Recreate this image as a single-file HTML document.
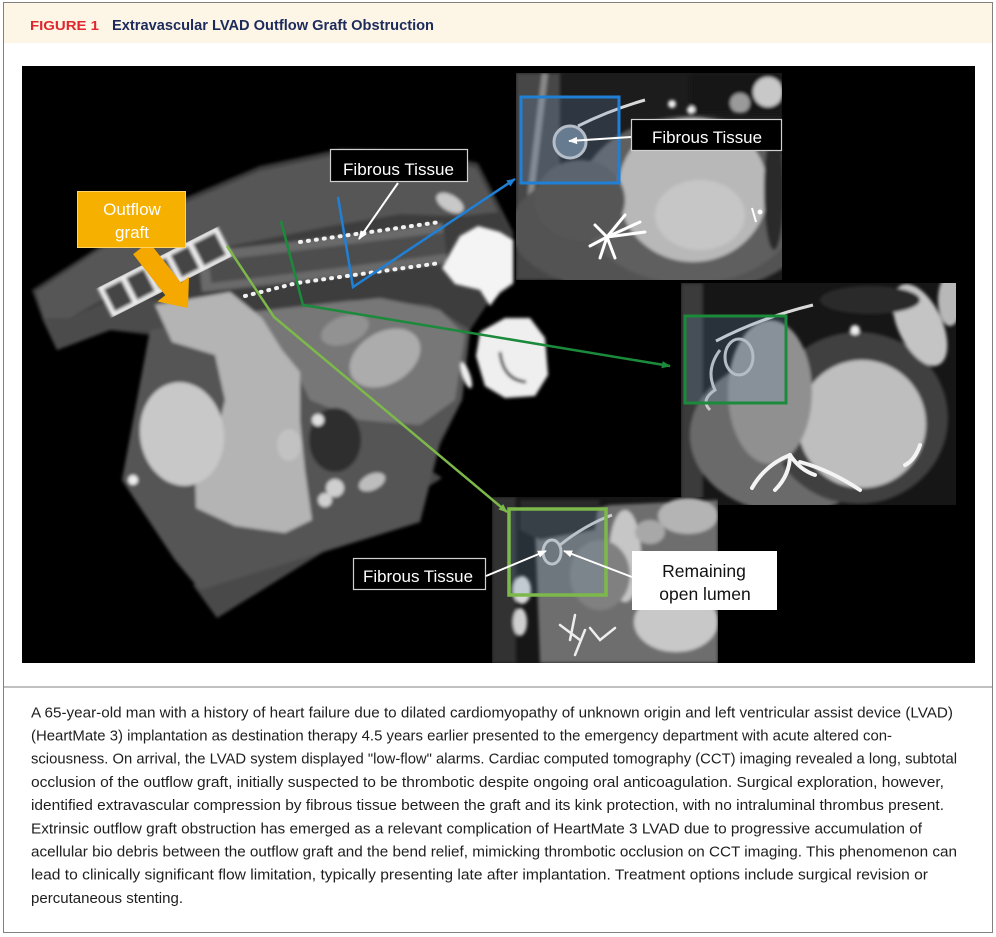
<!DOCTYPE html>
<html><head><meta charset="utf-8"><style>
html,body{margin:0;padding:0;background:#fff;}
svg{display:block;}
</style></head><body>
<svg width="996" height="937" viewBox="0 0 996 937" xmlns="http://www.w3.org/2000/svg" font-family="'Liberation Sans', Arial, sans-serif">
<defs>
<filter id="b" x="-5%" y="-5%" width="110%" height="110%"><feGaussianBlur stdDeviation="1.6"/></filter>
<filter id="b2" x="-10%" y="-10%" width="120%" height="120%"><feGaussianBlur stdDeviation="3"/></filter>
<marker id="mb" viewBox="0 0 10 10" refX="9" refY="5" markerWidth="9" markerHeight="9" markerUnits="userSpaceOnUse" orient="auto"><path d="M0,1 L10,5 L0,9 z" fill="#1f80d6"/></marker>
<marker id="mg" viewBox="0 0 10 10" refX="9" refY="5" markerWidth="9" markerHeight="9" markerUnits="userSpaceOnUse" orient="auto"><path d="M0,1 L10,5 L0,9 z" fill="#1b8a3a"/></marker>
<marker id="ml" viewBox="0 0 10 10" refX="9" refY="5" markerWidth="9" markerHeight="9" markerUnits="userSpaceOnUse" orient="auto"><path d="M0,1 L10,5 L0,9 z" fill="#7cb94a"/></marker>
<marker id="mw" viewBox="0 0 10 10" refX="9" refY="5" markerWidth="9" markerHeight="9" markerUnits="userSpaceOnUse" orient="auto"><path d="M0,1 L10,5 L0,9 z" fill="#ffffff"/></marker>
<clipPath id="c1"><rect x="516" y="73" width="266" height="207"/></clipPath>
<clipPath id="c2"><rect x="681" y="283" width="275" height="222"/></clipPath>
<clipPath id="c3"><rect x="492" y="497" width="226" height="166"/></clipPath>
</defs>

<rect width="996" height="937" fill="#fff"/>
<rect x="4" y="3" width="988" height="40" fill="#fdf5e6"/>
<rect x="3.5" y="2.5" width="989" height="930" fill="none" stroke="#808080" stroke-width="1"/>
<text x="30" y="30" font-size="12.5" font-weight="bold" fill="#e0262e" textLength="69" lengthAdjust="spacingAndGlyphs">FIGURE 1</text>
<text x="112" y="30" font-size="14.5" font-weight="bold" fill="#1c2b5c" textLength="322" lengthAdjust="spacingAndGlyphs">Extravascular LVAD Outflow Graft Obstruction</text>

<!-- image area -->
<rect x="22" y="66" width="953" height="597" fill="#000"/>

<!-- MAIN CT -->
<g filter="url(#b)">
  <polygon fill="#3c3c3c" points="32,290 100,246 180,200 260,166 340,149 420,151 478,163 503,212 513,232 513,285 490,300 470,330 462,400 440,445 420,522 200,590 175,560 122,480 150,335 110,330 57,350 42,318"/>
  <polygon fill="#4a4a4a" points="193,585 217,618 442,478 430,470"/>
  <polygon fill="#575757" points="36,292 100,250 180,205 260,171 340,154 420,156 476,168 498,212 460,216 400,214 330,226 260,240 200,252 150,272 110,295 70,318 44,318"/>
  <polygon fill="#4c4c4c" points="42,318 70,318 110,300 150,300 200,300 160,332 110,330 57,350"/>
  <!-- heart region -->
  <polygon fill="#555" points="150,330 250,312 350,300 430,305 470,330 462,400 440,440 420,522 200,590 175,560 122,480"/>
  <polygon fill="#777" points="250,312 380,298 440,310 465,335 455,400 420,425 360,420 310,400 290,360"/>
  <ellipse cx="385" cy="358" rx="38" ry="26" transform="rotate(-30 385 358)" fill="#acacac"/>
  <ellipse cx="345" cy="330" rx="25" ry="14" transform="rotate(-20 345 330)" fill="#929292"/>
  <polygon fill="#b4b4b4" points="155,305 230,292 262,318 282,350 300,372 300,420 305,470 312,520 285,533 235,526 196,508 195,470 215,440 225,400 215,355 172,342"/>
  <ellipse cx="182" cy="434" rx="42" ry="52" transform="rotate(-8 182 434)" fill="#c8c8c8"/>
  <ellipse cx="335" cy="440" rx="26" ry="32" fill="#2e2e2e"/>
  <ellipse cx="289" cy="445" rx="12" ry="16" fill="#c2c2c2"/>
  <circle cx="335" cy="488" r="9" fill="#cfcfcf"/>
  <circle cx="325" cy="500" r="7" fill="#d0d0d0"/>
  <ellipse cx="372" cy="482" rx="14" ry="8" transform="rotate(-25 372 482)" fill="#bdbdbd"/>
  <circle cx="318" cy="420" r="6" fill="#e0e0e0"/>
  <circle cx="133" cy="480" r="5" fill="#eee"/>
  <!-- graft band -->
  <path d="M200,272 Q300,262 445,243" stroke="#6a6a6a" stroke-width="40" fill="none"/>
  <path d="M210,272 Q300,262 445,243" stroke="#4e4e4e" stroke-width="22" fill="none"/>
  <ellipse cx="450" cy="203" rx="15" ry="8" transform="rotate(30 450 203)" fill="#c8c8c8"/>
</g>
<!-- dotted rows -->
<path d="M300,242 L440,222" stroke="#f2f2f2" stroke-width="4" stroke-dasharray="1 7" stroke-linecap="round" fill="none"/>
<path d="M245,296 L297,283 L440,263" stroke="#f2f2f2" stroke-width="4" stroke-dasharray="1 7" stroke-linecap="round" fill="none"/>
<!-- bend relief lattice -->
<g transform="translate(165,272) rotate(-27)" filter="url(#b)">
  <rect x="-65" y="-15" width="130" height="30" fill="#444" stroke="#eee" stroke-width="5"/>
  <line x1="-40" y1="-15" x2="-40" y2="15" stroke="#eee" stroke-width="5"/>
  <line x1="-15" y1="-15" x2="-15" y2="15" stroke="#eee" stroke-width="5"/>
  <line x1="10" y1="-15" x2="10" y2="15" stroke="#eee" stroke-width="5"/>
  <line x1="35" y1="-15" x2="35" y2="15" stroke="#eee" stroke-width="5"/>
</g>
<!-- pump blobs -->
<g filter="url(#b)">
  <polygon fill="#f4f4f4" points="442,268 460,236 478,226 500,232 513,240 513,283 500,292 490,306 480,290 455,284"/>
  <polygon fill="#efefef" points="480,332 505,318 530,318 545,338 548,375 535,396 505,398 485,386 476,356"/>
  <path d="M500,352 Q503,380 526,382" stroke="#222" stroke-width="3" fill="none"/>
  <ellipse cx="466" cy="375" rx="4" ry="14" transform="rotate(-20 466 375)" fill="#eee"/>
</g>

<!-- PANEL 1 -->
<g clip-path="url(#c1)">
  <rect x="516" y="73" width="266" height="207" fill="#1c1c1c"/>
  <g filter="url(#b)">
    <rect x="516" y="73" width="44" height="207" fill="#464646"/>
    <path d="M545,73 L530,200" stroke="#8a8a8a" stroke-width="6" fill="none"/>
    <ellipse cx="660" cy="228" rx="150" ry="70" fill="#525252"/>
    <ellipse cx="690" cy="200" rx="112" ry="84" fill="#5e5e5e"/>
    <ellipse cx="693" cy="190" rx="75" ry="72" fill="#b8b8b8"/>
    <ellipse cx="700" cy="215" rx="45" ry="35" fill="#c6c6c6"/>
    <rect x="690" y="73" width="92" height="40" fill="#121212"/>
    <circle cx="768" cy="92" r="15" fill="#c8c8c8"/>
    <circle cx="740" cy="103" r="10" fill="#9a9a9a"/>
    <ellipse cx="774" cy="190" rx="10" ry="60" fill="#2a2a2a"/>
    <circle cx="672" cy="104" r="4" fill="#f0f0f0"/>
    <circle cx="691" cy="110" r="4" fill="#f0f0f0"/>
    <ellipse cx="580" cy="200" rx="45" ry="40" fill="#565656"/>
  </g>
  <path d="M578,126 Q610,110 645,100" stroke="#d8d8d8" stroke-width="3" fill="none"/>
  <circle cx="570" cy="142" r="16" fill="#667480" stroke="#c8c8c8" stroke-width="3"/>
  <g stroke="#fff" stroke-width="3" stroke-linecap="round">
    <line x1="607" y1="237" x2="640" y2="222"/>
    <line x1="607" y1="237" x2="645" y2="232"/>
    <line x1="607" y1="237" x2="600" y2="258"/>
    <line x1="607" y1="237" x2="590" y2="246"/>
    <line x1="607" y1="237" x2="615" y2="258"/>
    <line x1="607" y1="237" x2="625" y2="215"/>
    <line x1="607" y1="237" x2="595" y2="225"/>
  </g>
  <g stroke="#fff" stroke-width="2"><line x1="752" y1="208" x2="756" y2="222"/><circle cx="760" cy="212" r="1.5" fill="#fff"/></g>
</g>

<!-- PANEL 2 -->
<g clip-path="url(#c2)">
  <rect x="681" y="283" width="275" height="222" fill="#161616"/>
  <g filter="url(#b)">
    <rect x="681" y="283" width="22" height="222" fill="#3a3a3a"/>
    <ellipse cx="790" cy="435" rx="100" ry="78" fill="#6a6a6a"/>
    <ellipse cx="858" cy="418" rx="90" ry="86" fill="#404040"/>
    <circle cx="862" cy="424" r="64" fill="#bebebe"/>
    <ellipse cx="770" cy="392" rx="42" ry="72" fill="#909090"/>
    <ellipse cx="920" cy="325" rx="22" ry="44" transform="rotate(-25 920 325)" fill="#c4c4c4"/>
    <ellipse cx="950" cy="300" rx="12" ry="26" fill="#b8b8b8"/>
    <ellipse cx="870" cy="300" rx="50" ry="14" fill="#2c2c2c"/>
    <circle cx="855" cy="330" r="5" fill="#eee"/>
  </g>
  <path d="M716,341 Q760,318 813,305" stroke="#d8d8d8" stroke-width="3" fill="none"/>
  <ellipse cx="739" cy="357" rx="14" ry="18" fill="none" stroke="#c8c8c8" stroke-width="3"/>
  <path d="M720,350 Q705,370 715,390 Q700,400 710,410" stroke="#c8c8c8" stroke-width="3" fill="none"/>
  <g stroke="#f4f4f4" stroke-width="4" fill="none" stroke-linecap="round">
    <path d="M752,488 Q765,465 790,455"/>
    <path d="M790,455 Q800,470 815,475"/>
    <path d="M790,455 Q790,475 775,490"/>
    <path d="M800,462 Q830,470 860,490"/>
    <path d="M920,445 Q915,460 905,465"/>
  </g>
</g>

<!-- PANEL 3 -->
<g clip-path="url(#c3)">
  <rect x="492" y="497" width="226" height="166" fill="#161616"/>
  <g filter="url(#b)">
    <rect x="492" y="497" width="24" height="166" fill="#303030"/>
    <polygon fill="#6e6e6e" points="535,525 610,505 718,500 718,663 540,663"/>
    <polygon fill="#2a2a2a" points="520,500 600,500 595,530 540,540 520,530"/>
    <ellipse cx="625" cy="556" rx="16" ry="46" fill="#c6c6c6"/>
    <ellipse cx="676" cy="622" rx="42" ry="30" fill="#c8c8c8"/>
    <ellipse cx="688" cy="516" rx="30" ry="18" fill="#b4b4b4"/>
    <ellipse cx="650" cy="532" rx="15" ry="12" fill="#a8a8a8"/>
    <ellipse cx="600" cy="575" rx="30" ry="35" fill="#808080"/>
    <ellipse cx="522" cy="590" rx="9" ry="14" fill="#d8d8d8"/>
    <ellipse cx="520" cy="622" rx="7" ry="14" fill="#cfcfcf"/>
  </g>
  <path d="M560,545 Q585,525 612,515" stroke="#cfcfcf" stroke-width="3" fill="none"/>
  <ellipse cx="552" cy="552" rx="9" ry="12" fill="none" stroke="#cfcfcf" stroke-width="3"/>
  <g stroke="#eee" stroke-width="2.5" fill="none" stroke-linecap="round">
    <path d="M560,625 L580,640 M575,615 L570,640 M585,630 L575,655"/>
    <path d="M590,628 L600,640 L615,628"/>
  </g>
</g>

<!-- tinted boxes -->
<rect x="521" y="97" width="98" height="86" fill="rgba(110,150,200,0.22)" stroke="#1f80d6" stroke-width="3"/>
<rect x="685" y="316" width="101" height="87" fill="rgba(110,150,190,0.22)" stroke="#1b8a3a" stroke-width="3"/>
<rect x="509" y="509" width="97" height="86" fill="rgba(110,150,190,0.2)" stroke="#7cb94a" stroke-width="3.5"/>

<!-- connectors -->
<polyline points="338,197 353,287 515,179" fill="none" stroke="#1f80d6" stroke-width="2.5" marker-end="url(#mb)"/>
<polyline points="281,221 303,305 670,366" fill="none" stroke="#1b8a3a" stroke-width="2.5" marker-end="url(#mg)"/>
<polyline points="227,246 274,317 507,512" fill="none" stroke="#7cb94a" stroke-width="2.5" marker-end="url(#ml)"/>

<!-- orange arrow -->
<polygon fill="#f5a800" points="148.9,241.8 181.1,282.9 189,276.7 188,308 157.4,301.5 165.3,295.3 133.1,254.2"/>
<rect x="77.5" y="191.5" width="108" height="56" fill="#f5b000" stroke="#ffd36a" stroke-width="1"/>
<text x="132" y="215" font-size="17" fill="#fff" text-anchor="middle">Outflow</text>
<text x="132" y="238" font-size="17" fill="#fff" text-anchor="middle">graft</text>

<!-- labels -->
<rect x="330.5" y="149.5" width="137" height="32" fill="#000" stroke="#d0d0d0" stroke-width="1.2"/>
<text x="343" y="175" font-size="17" fill="#fff" textLength="111" lengthAdjust="spacingAndGlyphs">Fibrous Tissue</text>
<line x1="398" y1="183" x2="359" y2="239" stroke="#fff" stroke-width="2" marker-end="url(#mw)"/>

<rect x="631.5" y="119.5" width="150" height="31" fill="#000" stroke="#d0d0d0" stroke-width="1.2"/>
<text x="652" y="143" font-size="17" fill="#fff" textLength="110" lengthAdjust="spacingAndGlyphs">Fibrous Tissue</text>
<line x1="631" y1="137" x2="569" y2="141" stroke="#fff" stroke-width="2" marker-end="url(#mw)"/>

<rect x="353.5" y="558.5" width="132" height="31" fill="#000" stroke="#d0d0d0" stroke-width="1.2"/>
<text x="363" y="582" font-size="17" fill="#fff" textLength="110" lengthAdjust="spacingAndGlyphs">Fibrous Tissue</text>
<line x1="486" y1="576" x2="546" y2="551" stroke="#fff" stroke-width="2" marker-end="url(#mw)"/>

<rect x="632" y="551" width="145" height="59" fill="#fff"/>
<line x1="632" y1="577" x2="564" y2="551" stroke="#fff" stroke-width="2" marker-end="url(#mw)"/>
<text x="704" y="577" font-size="17.5" fill="#111" text-anchor="middle">Remaining</text>
<text x="705" y="600" font-size="17.5" fill="#111" text-anchor="middle">open lumen</text>

<!-- separator -->
<line x1="3.5" y1="687" x2="992.5" y2="687" stroke="#808080" stroke-width="1"/>

<!-- caption -->
<g font-size="15" fill="#1e1e1e">
<text x="31" y="717.3" textLength="922" lengthAdjust="spacingAndGlyphs">A 65-year-old man with a history of heart failure due to dilated cardiomyopathy of unknown origin and left ventricular assist device (LVAD)</text>
<text x="31" y="740.5" textLength="861" lengthAdjust="spacingAndGlyphs">(HeartMate 3) implantation as destination therapy 4.5 years earlier presented to the emergency department with acute altered con-</text>
<text x="31" y="763.7" textLength="926" lengthAdjust="spacingAndGlyphs">sciousness. On arrival, the LVAD system displayed "low-flow" alarms. Cardiac computed tomography (CCT) imaging revealed a long, subtotal</text>
<text x="31" y="786.9" textLength="913" lengthAdjust="spacingAndGlyphs">occlusion of the outflow graft, initially suspected to be thrombotic despite ongoing oral anticoagulation. Surgical exploration, however,</text>
<text x="31" y="810.1" textLength="913" lengthAdjust="spacingAndGlyphs">identified extravascular compression by fibrous tissue between the graft and its kink protection, with no intraluminal thrombus present.</text>
<text x="31" y="833.3" textLength="891" lengthAdjust="spacingAndGlyphs">Extrinsic outflow graft obstruction has emerged as a relevant complication of HeartMate 3 LVAD due to progressive accumulation of</text>
<text x="31" y="856.5" textLength="926" lengthAdjust="spacingAndGlyphs">acellular bio debris between the outflow graft and the bend relief, mimicking thrombotic occlusion on CCT imaging. This phenomenon can</text>
<text x="31" y="879.7" textLength="897" lengthAdjust="spacingAndGlyphs">lead to clinically significant flow limitation, typically presenting late after implantation. Treatment options include surgical revision or</text>
<text x="31" y="902.9" textLength="152" lengthAdjust="spacingAndGlyphs">percutaneous stenting.</text>
</g>
</svg>
</body></html>
